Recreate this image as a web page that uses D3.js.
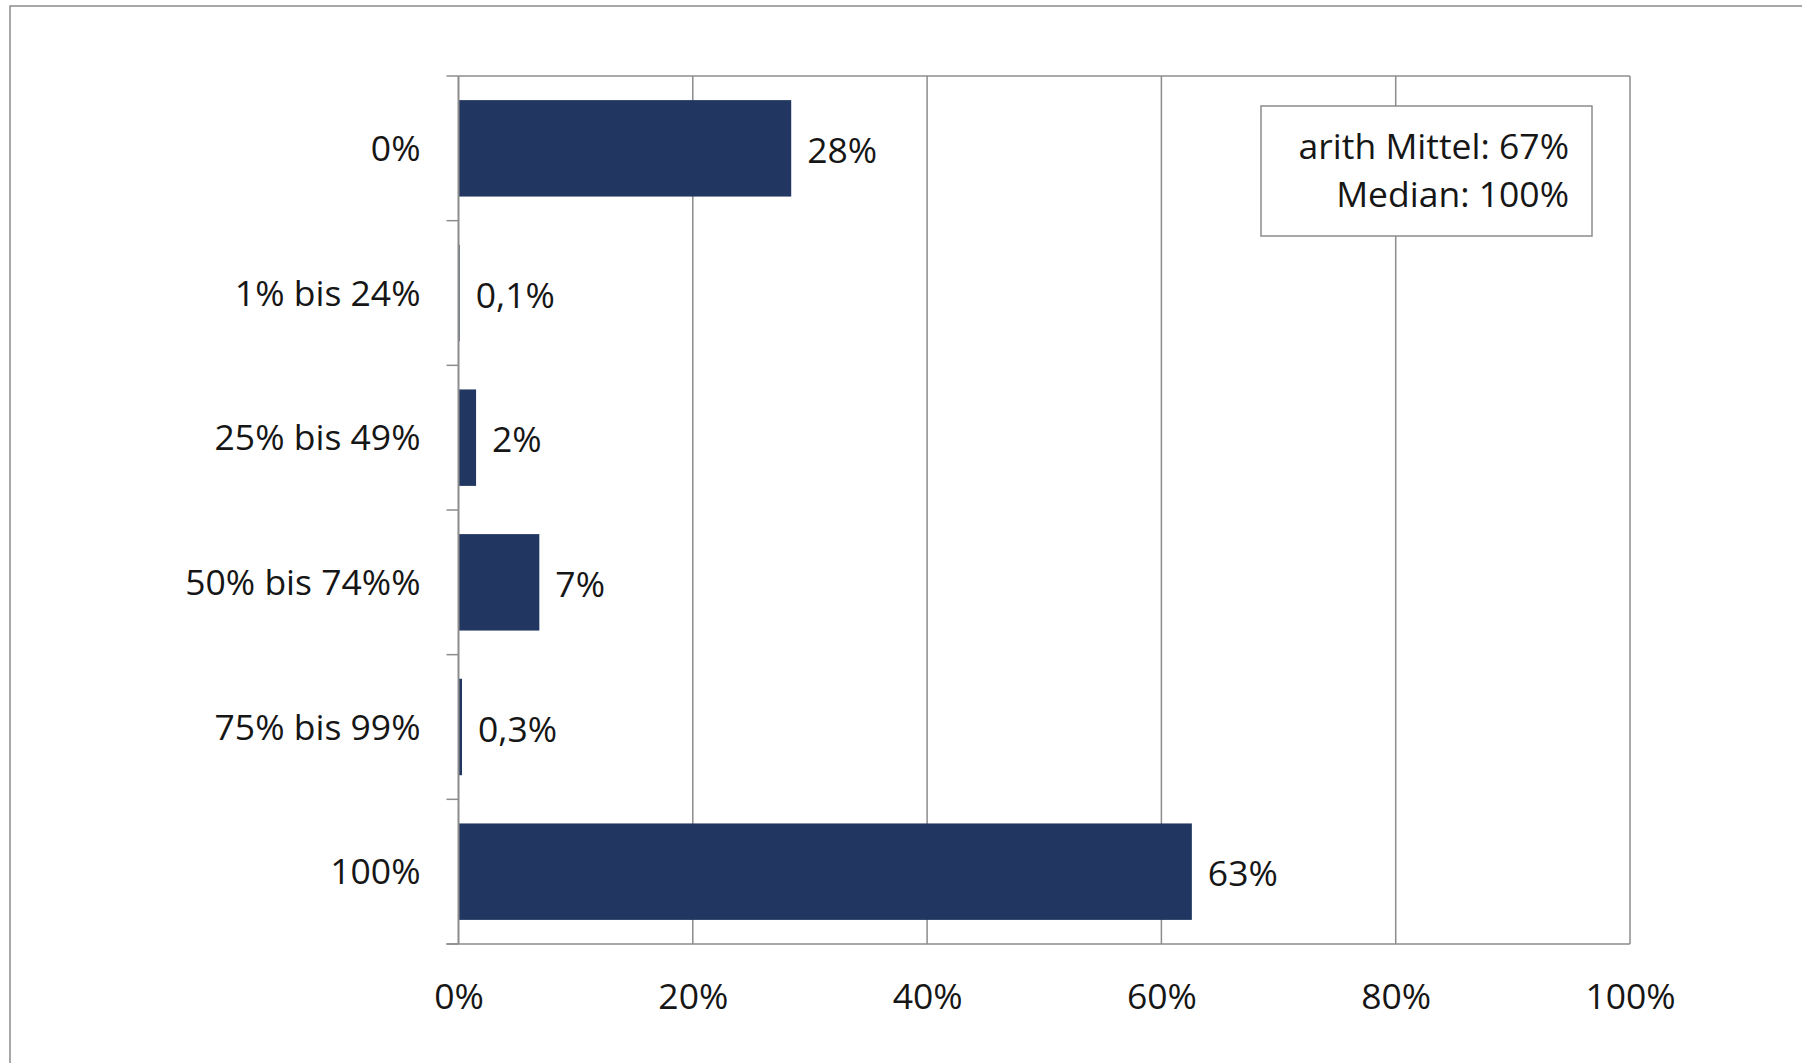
<!DOCTYPE html>
<html lang="de">
<head>
<meta charset="utf-8">
<script src="https://cdn.jsdelivr.net/npm/d3@7"></script>
<style>
  html, body { margin: 0; padding: 0; background: #ffffff; }
  svg { display: block; }
  text { font-family: "Open Sans", "Segoe UI", sans-serif; font-weight: 400; fill: #161616; }
</style>
</head>
<body>
<script>
// Anteilsklassen und ihre Häufigkeit in Prozent
const categories = ["0%", "1% bis 24%", "25% bis 49%", "50% bis 74%%", "75% bis 99%", "100%"];
const shares = [28.4, 0.1, 1.5, 6.9, 0.3, 62.6];
const xTickValues = [0, 20, 40, 60, 80, 100];
const statsLines = ["arith Mittel: 67%", "Median: 100%"];

const W = 1802, H = 1063;
const plot = { left: 458.5, right: 1630, top: 76, bottom: 944 };
const barColor = "#213761";
const lineColor = "#8c8c8c";
const fontSize = 35.5;

const de = d3.formatLocale({ decimal: ",", thousands: ".", grouping: [3], currency: ["", " €"] });
const fmtInt = de.format(".0f");
const fmtDec = de.format(".1f");
const valueLabel = v => (v < 1 ? fmtDec(v) : fmtInt(v)) + "%";

const svg = d3.select("body").append("svg")
  .attr("width", W).attr("height", H);

// Rahmen des Diagrammbereichs
svg.append("rect")
  .attr("x", 10).attr("y", 6)
  .attr("width", W + 20).attr("height", H + 20)
  .attr("fill", "#fff").attr("stroke", lineColor).attr("stroke-width", 1.5);

const x = d3.scaleLinear().domain([0, 100]).range([plot.left, plot.right]);
const y = d3.scaleBand().domain(categories)
  .range([plot.top, plot.bottom])
  .paddingInner(1 / 3).paddingOuter(1 / 6);

// Vertikale Gitterlinien und oberer Rand
const grid = svg.append("g");
grid.selectAll("line.v").data(xTickValues.slice(1)).join("line")
  .attr("x1", d => x(d)).attr("x2", d => x(d))
  .attr("y1", plot.top).attr("y2", plot.bottom)
  .attr("stroke", lineColor).attr("stroke-width", 1.5);
grid.append("line")
  .attr("x1", plot.left).attr("x2", plot.right)
  .attr("y1", plot.top).attr("y2", plot.top)
  .attr("stroke", lineColor).attr("stroke-width", 1.5);

// Balken
svg.append("g").selectAll("rect").data(categories).join("rect")
  .attr("x", x(0))
  .attr("y", d => y(d))
  .attr("width", (d, i) => x(shares[i]) - x(0))
  .attr("height", y.bandwidth())
  .attr("fill", barColor);

// Wertbeschriftungen
svg.append("g").selectAll("text").data(categories).join("text")
  .attr("x", (d, i) => x(shares[i]) + 16)
  .attr("y", d => y(d) + y.bandwidth() / 2 + 2)
  .attr("dy", "0.36em")
  .attr("font-size", fontSize)
  .text((d, i) => valueLabel(shares[i]));

// Kategorienachse (links), über den Balken gezeichnet
const step = y.step();
const boundaries = d3.range(categories.length + 1).map(i => plot.top + i * step);
const yAxis = svg.append("g");
yAxis.append("line")
  .attr("x1", plot.left).attr("x2", plot.left)
  .attr("y1", plot.top).attr("y2", plot.bottom)
  .attr("stroke", lineColor).attr("stroke-width", 2);
yAxis.selectAll("line.tick").data(boundaries).join("line")
  .attr("class", "tick")
  .attr("x1", plot.left - 12).attr("x2", plot.left)
  .attr("y1", d => d).attr("y2", d => d)
  .attr("stroke", lineColor).attr("stroke-width", 1.5);
yAxis.selectAll("text").data(categories).join("text")
  .attr("x", plot.left - 38)
  .attr("y", d => y(d) + y.bandwidth() / 2)
  .attr("dy", "0.36em")
  .attr("text-anchor", "end")
  .attr("font-size", fontSize)
  .text(d => d);

// Werteachse (unten)
const xAxis = svg.append("g")
  .attr("transform", `translate(0,${plot.bottom})`)
  .call(d3.axisBottom(x).tickValues(xTickValues).tickSize(0).tickPadding(0)
    .tickFormat(d => d + "%"));
xAxis.select(".domain").remove();
xAxis.append("line")
  .attr("x1", plot.left - 12).attr("x2", plot.right)
  .attr("y1", 0).attr("y2", 0)
  .attr("stroke", lineColor).attr("stroke-width", 1.5);
xAxis.selectAll(".tick text")
  .attr("y", 65).attr("dy", 0)
  .attr("font-size", fontSize)
  .attr("font-family", "'Open Sans', sans-serif")
  .attr("font-weight", 400)
  .attr("fill", "#161616");

// Kennzahlen-Kasten
const box = svg.append("g");
box.append("rect")
  .attr("x", 1261).attr("y", 106)
  .attr("width", 331).attr("height", 130)
  .attr("fill", "#fff").attr("stroke", lineColor).attr("stroke-width", 1.5);
box.selectAll("text").data(statsLines).join("text")
  .attr("x", 1569)
  .attr("y", (d, i) => 159 + i * 48)
  .attr("text-anchor", "end")
  .attr("font-size", fontSize)
  .text(d => d);
</script>
</body>
</html>
